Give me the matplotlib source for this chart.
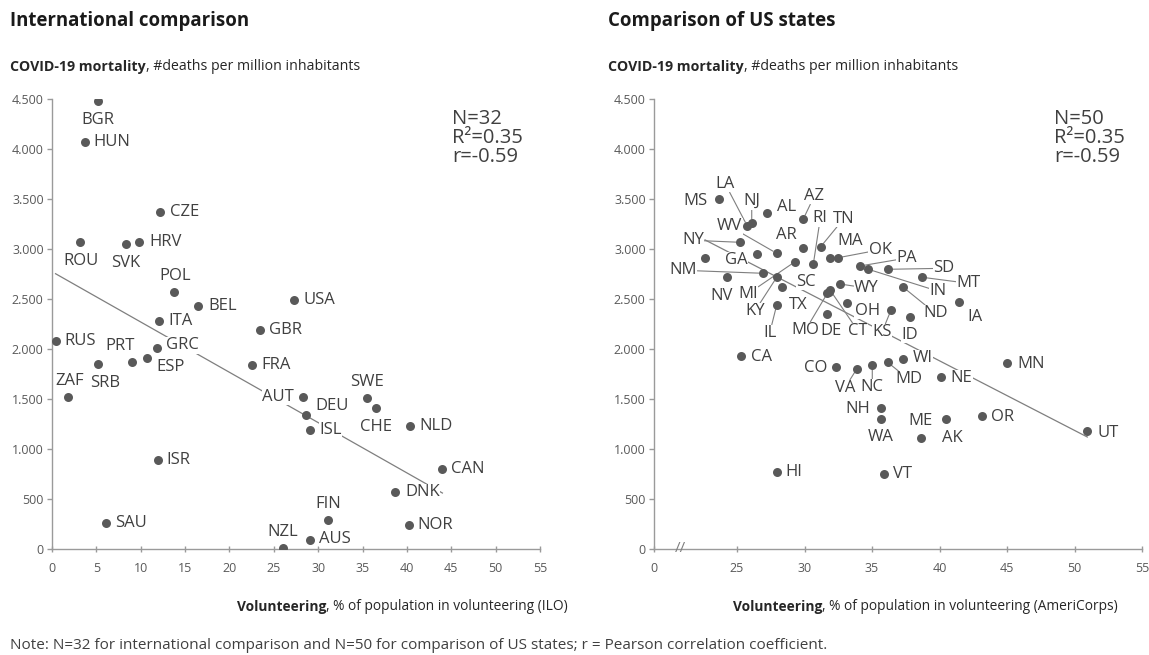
import matplotlib
matplotlib.use("Agg")
import matplotlib.pyplot as plt
from matplotlib.ticker import FuncFormatter

plt.rcParams['font.family'] = ['Open Sans', 'DejaVu Sans']

# ---------------- data ----------------
countries = ["BGR", "HUN", "CZE", "ROU", "SVK", "HRV", "POL", "BEL", "ITA", "GBR",
             "RUS", "GRC", "USA", "PRT", "ESP", "SRB", "ZAF", "FRA", "ISR", "SAU",
             "NZL", "AUT", "DEU", "ISL", "SWE", "CHE", "NLD", "CAN", "DNK", "NOR",
             "FIN", "AUS"]
intl_volunteering = [5.2, 3.7, 12.2, 3.2, 8.3, 9.8, 13.8, 16.5, 12.1, 23.4,
                     0.4, 11.8, 27.3, 9.05, 10.7, 5.2, 1.8, 22.5, 12.0, 6.1,
                     26.0, 28.3, 28.6, 29.1, 35.5, 36.5, 40.4, 44.0, 38.7, 40.2,
                     31.1, 29.1]
intl_mortality = [4483, 4067, 3367, 3070, 3053, 3070, 2570, 2433, 2280, 2187,
                  2083, 2007, 2487, 1867, 1913, 1853, 1520, 1837, 890, 257,
                  13, 1520, 1340, 1190, 1510, 1407, 1227, 803, 567, 243,
                  287, 90]
intl_trend = (2773, -50.3)          # intercept, slope
intl_stats = ["N=32", "R²=0.35", "r=-0.59"]

states = ["MS", "LA", "NJ", "AL", "AZ", "NY", "FL", "WV", "GA", "AR",
          "MI", "NM", "KY", "NV", "TX", "IL", "RI", "TN", "MA", "OK",
          "PA", "IN", "SD", "MT", "ND", "IA", "KS", "ID", "WY", "OH",
          "DE", "MO", "CT", "SC", "CA", "CO", "VA", "NC", "MD", "WI",
          "NE", "MN", "NH", "WA", "ME", "AK", "OR", "UT", "HI", "VT"]
us_volunteering = [23.69, 25.76, 26.09, 27.24, 29.91, 25.22, 22.63, 27.94, 26.46, 29.91,
                   29.30, 26.95, 27.94, 24.24, 28.31, 27.94, 30.65, 31.20, 31.89, 32.50,
                   34.11, 34.73, 36.16, 38.73, 37.32, 41.44, 36.41, 37.81, 32.63, 33.13,
                   31.69, 31.69, 31.89, 31.80, 25.30, 32.33, 33.87, 35.02, 36.16, 37.27,
                   40.09, 45.00, 35.67, 35.67, 40.48, 38.61, 43.13, 50.95, 27.94, 35.89]
us_mortality = [3500, 3230, 3257, 3357, 3300, 3067, 2907, 2957, 2947, 3010,
                2873, 2757, 2717, 2723, 2617, 2440, 2847, 3023, 2907, 2913,
                2830, 2797, 2797, 2717, 2617, 2473, 2390, 2323, 2650, 2460,
                2347, 2557, 2590, 2575, 1933, 1820, 1800, 1837, 1867, 1900,
                1717, 1860, 1407, 1300, 1297, 1107, 1333, 1180, 767, 750]
us_trend = (4666, -69.6)
us_stats = ["N=50", "R²=0.35", "r=-0.59"]

y_ticks = [0, 500, 1000, 1500, 2000, 2500, 3000, 3500, 4000, 4500]
intl_x_ticks = [0, 5, 10, 15, 20, 25, 30, 35, 40, 45, 50, 55]
us_x_ticks = [25, 30, 35, 40, 45, 50, 55]

# ---------------- layout (label offsets in pixels: dx, dy(up), ha, leader) ----------------
intl_labels = {
    "BGR": (0, -19, "center", False), "HUN": (9, 0, "left", False),
    "CZE": (10, 0, "left", False), "ROU": (1, -19, "center", False),
    "SVK": (0, -19, "center", False), "HRV": (10, 0, "left", False),
    "POL": (1, 16, "center", False), "BEL": (10, 0, "left", False),
    "ITA": (9, 0, "left", False), "GBR": (9, 0, "left", False),
    "RUS": (9, 0, "left", False), "GRC": (9, 3, "left", False),
    "USA": (9, 0, "left", False), "PRT": (-12, 16, "center", False),
    "ESP": (9, -9, "left", False), "SRB": (7, -19, "center", False),
    "ZAF": (2, 16, "center", False), "FRA": (10, 0, "left", False),
    "ISR": (8, 0, "left", False), "SAU": (9, 0, "left", False),
    "NZL": (0, 16, "center", False), "AUT": (-9, 0, "right", False),
    "DEU": (10, 9, "left", False), "ISL": (9, 0, "left", False),
    "SWE": (0, 16, "center", False), "CHE": (0, -19, "center", False),
    "NLD": (9, 0, "left", False), "CAN": (9, 0, "left", False),
    "DNK": (10, 0, "left", False), "NOR": (9, 0, "left", False),
    "FIN": (0, 16, "center", False), "AUS": (9, 1, "left", False),
}
us_labels = {
    "MS": (-12, -2, "right", False), "LA": (-22, 42, "center", True),
    "NJ": (0, 22, "center", True), "AL": (10, 6, "left", False),
    "AZ": (11, 23, "center", True), "RI": (7, 46, "center", True),
    "TN": (23, 28, "center", True), "MA": (20, 17, "center", False),
    "OK": (42, 8, "center", True), "PA": (47, 8, "center", True),
    "SD": (56, 1, "center", True), "MT": (46, -6, "center", True),
    "IN": (70, -22, "center", True), "ND": (32, -26, "center", True),
    "IA": (16, -15, "center", False), "KS": (-9, -22, "center", True),
    "ID": (0, -18, "center", False), "WY": (14, -4, "left", True),
    "OH": (8, -8, "left", False), "CT": (28, -41, "center", True),
    "DE": (4, -17, "center", False), "MO": (-22, -37, "center", True),
    "SC": (-23, 10, "center", False), "TX": (7, -18, "left", False),
    "IL": (-7, -28, "center", True), "KY": (-22, -34, "center", True),
    "MI": (-47, -32, "center", True), "NV": (-5, -19, "center", False),
    "NM": (-80, 3, "center", True), "GA": (-20, -6, "center", False),
    "WV": (-47, 27, "center", True), "AR": (-17, 13, "center", False),
    "NY": (-47, 2, "center", True), "CA": (10, -1, "left", False),
    "CO": (-9, -1, "right", False), "VA": (-12, -19, "center", True),
    "NC": (0, -22, "center", True), "MD": (21, -17, "center", True),
    "WI": (10, 1, "left", False), "NE": (10, -1, "left", False),
    "MN": (10, -1, "left", False), "NH": (-11, -1, "right", False),
    "WA": (0, -18, "center", False), "ME": (-13, -2, "right", False),
    "AK": (21, 0, "left", False), "OR": (9, -1, "left", False),
    "UT": (10, -2, "left", False), "HI": (9, 0, "left", False),
    "VT": (9, 0, "left", False),
}

US_AXIS_ORIGIN = 18.85   # where the broken axis starts (labelled 0)

DOT = "#595959"
TXT = "#404040"
AXC = "#9a9a9a"
TICKC = "#595959"
LINE = "#7f7f7f"
LBL_FS = 12
W, H = 1149, 655

fig = plt.figure(figsize=(11.49, 6.55), dpi=100)
axL = fig.add_axes([52 / W, 106 / H, 488 / W, 450 / H])
axR = fig.add_axes([654 / W, 106 / H, 488 / W, 450 / H])

fmt = FuncFormatter(lambda v, p: f"{int(v):,}".replace(",", "."))


def style(ax):
    for s in ("top", "right"):
        ax.spines[s].set_visible(False)
    for s in ("left", "bottom"):
        ax.spines[s].set_color(AXC)
        ax.spines[s].set_linewidth(1.0)
    ax.set_ylim(0, 4500)
    ax.set_yticks(y_ticks)
    ax.yaxis.set_major_formatter(fmt)
    ax.tick_params(axis="y", direction="out", length=3.5, width=1, color=AXC,
                   labelsize=9, labelcolor=TICKC, pad=2.5)
    ax.tick_params(axis="x", direction="inout", length=5, width=1, color=AXC,
                   labelsize=9, labelcolor=TICKC, pad=7)


def draw(ax, names, xs, ys, trend, layout):
    a, b = trend
    x0, x1 = min(xs), max(xs)
    ax.plot([x0, x1], [a + b * x0, a + b * x1], color=LINE, lw=0.9, zorder=1)
    ax.scatter(xs, ys, s=42, color=DOT, linewidths=0, zorder=4)
    for n, x, y in zip(names, xs, ys):
        if n not in layout:
            continue
        dx, dy, ha, lead = layout[n]
        ap = None
        if lead:
            ap = dict(arrowstyle="-", color=LINE, lw=0.8, shrinkA=0, shrinkB=3)
        ax.annotate(n, (x, y), xytext=(dx, dy), textcoords="offset pixels",
                    ha=ha, va="center", fontsize=LBL_FS, color=TXT,
                    bbox=dict(boxstyle="square,pad=0.02", fc="white", ec="none"),
                    arrowprops=ap, zorder=3)


style(axL)
axL.set_xlim(0, 55)
axL.set_xticks(intl_x_ticks)
draw(axL, countries, intl_volunteering, intl_mortality, intl_trend, intl_labels)

style(axR)
axR.set_xlim(US_AXIS_ORIGIN, 55)
axR.set_xticks([US_AXIS_ORIGIN] + us_x_ticks)
axR.set_xticklabels(["0"] + [str(t) for t in us_x_ticks])
draw(axR, states, us_volunteering, us_mortality, us_trend, us_labels)
axR.text(20.8, 0, "//", ha="center", va="center", fontsize=11, color="#7f7f7f",
         clip_on=False, zorder=5)

# stats boxes
for ax, st in ((axL, intl_stats), (axR, us_stats)):
    ax.text(400 / 488, 1 - 10 / 450, "\n".join(st), transform=ax.transAxes,
            ha="left", va="top", fontsize=14.5, color=TXT, linespacing=0.93)


def two_part(x, y, bold, normal, fs):
    t1 = fig.text(x, y, bold, fontsize=fs, fontweight="bold", color="#262626",
                  ha="left", va="baseline")
    fig.add_artist(matplotlib.text.Annotation(
        normal, xy=(1, 0), xycoords=t1, xytext=(0, 0), textcoords="offset points",
        fontsize=fs, color="#262626", va="bottom", ha="left", annotation_clip=False))


fig.text(10 / W, 1 - 26 / H, "International comparison", fontsize=13.4,
         fontweight="bold", color="#1a1a1a", ha="left", va="baseline")
fig.text(608 / W, 1 - 26 / H, "Comparison of US states", fontsize=13.4,
         fontweight="bold", color="#1a1a1a", ha="left", va="baseline")

two_part(10 / W, 1 - 71 / H, "COVID-19 mortality", ", #deaths per million inhabitants", 10.2)
two_part(608 / W, 1 - 71 / H, "COVID-19 mortality", ", #deaths per million inhabitants", 10.2)
two_part(237 / W, 1 - 611 / H, "Volunteering", ", % of population in volunteering (ILO)", 9.9)
two_part(733 / W, 1 - 611 / H, "Volunteering", ", % of population in volunteering (AmeriCorps)", 9.9)

fig.text(10 / W, 1 - 649 / H,
         "Note: N=32 for international comparison and N=50 for comparison of US states; "
         "r = Pearson correlation coefficient.",
         fontsize=11, color="#404040", ha="left", va="baseline")

fig.savefig("out.png", dpi=100, facecolor="white")
